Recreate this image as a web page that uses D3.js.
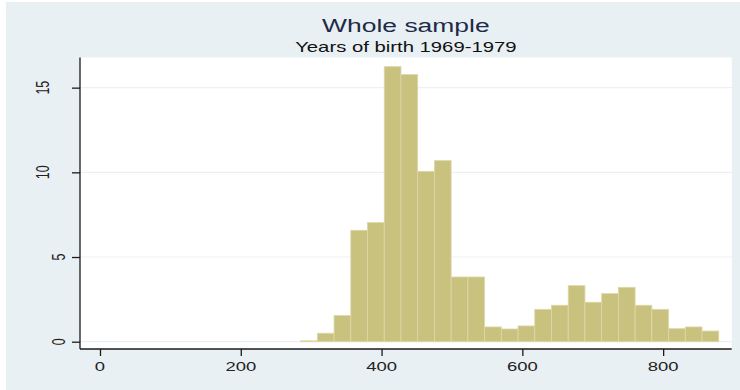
<!DOCTYPE html>
<html>
<head>
<meta charset="utf-8">
<script src="https://cdn.jsdelivr.net/npm/d3@7"></script>
<style>
  body { margin: 0; background: #fff; }
  text { font-family: "Liberation Sans", Arial, sans-serif; }
</style>
</head>
<body>
<div id="chart"></div>
<script>
var width = 740,
    height = 390;

// histogram: density per bin, bins start at 285 and are ~23.76 wide
var binStart = 285,
    binWidth = 23.76;
var density = [0.05, 0.5, 1.54, 6.58, 7.03, 16.24, 15.77, 10.06, 10.69, 3.82, 3.82, 0.87, 0.75,
               0.93, 1.91, 2.15, 3.31, 2.33, 2.84, 3.21, 2.15, 1.91, 0.77, 0.87, 0.63];
var xTicks = [0, 200, 400, 600, 800];
var yTicks = [0, 5, 10, 15];
var title = 'Whole sample',
    subtitle = 'Years of birth 1969-1979';

var bins = density.map(function(d, i) {
  return { x0: binStart + i * binWidth, x1: binStart + (i + 1) * binWidth, y: d };
});

var svg = d3.select('#chart').append('svg')
  .attr('width', width)
  .attr('height', height);

svg.append('rect')
  .attr('x', 6).attr('y', 2)
  .attr('width', width - 6).attr('height', height - 2)
  .attr('fill', '#e9f0f3');

var plotLeft = 80, plotRight = 731.7, plotTop = 57.5, plotBottom = 349;

var x = d3.scaleLinear()
  .domain([-28.4, 897.4])
  .range([plotLeft, plotRight]);

var y = d3.scaleLinear()
  .domain([-0.431, 16.78])
  .range([plotBottom, plotTop]);

svg.append('rect')
  .attr('x', plotLeft).attr('y', plotTop)
  .attr('width', plotRight - plotLeft).attr('height', plotBottom - plotTop)
  .attr('fill', '#fff');

// gridlines
svg.append('g').selectAll('line')
  .data(yTicks)
  .enter().append('line')
  .attr('x1', plotLeft).attr('x2', plotRight)
  .attr('y1', function(d) { return y(d); })
  .attr('y2', function(d) { return y(d); })
  .attr('stroke', '#eaf1f3')
  .attr('stroke-width', 1.2);

// bars
svg.append('g').selectAll('rect')
  .data(bins)
  .enter().append('rect')
  .attr('x', function(d) { return x(d.x0); })
  .attr('width', function(d) { return x(d.x1) - x(d.x0); })
  .attr('y', function(d) { return y(d.y); })
  .attr('height', function(d) { return y(0) - y(d.y); })
  .attr('fill', '#c9c27f')
  .attr('stroke', '#ddd7a8')
  .attr('stroke-width', 0.8);

// axes
var xAxis = svg.append('g')
  .attr('transform', 'translate(0,' + plotBottom + ')')
  .call(d3.axisBottom(x).tickValues(xTicks).tickSize(7).tickFormat(''));
xAxis.select('.domain').attr('d', 'M' + plotLeft + ',0H' + plotRight);

var yAxis = svg.append('g')
  .attr('transform', 'translate(' + plotLeft + ',0)')
  .call(d3.axisLeft(y).tickValues(yTicks).tickSize(8).tickFormat(''));
yAxis.select('.domain').attr('d', 'M0,' + plotTop + 'V' + plotBottom);

svg.selectAll('.domain, .tick line')
  .attr('stroke', '#1a1a1a')
  .attr('stroke-width', 1.3);

// tick labels (picture is stretched horizontally, so text is too)
svg.append('g').selectAll('text')
  .data(xTicks)
  .enter().append('text')
  .attr('transform', function(d) { return 'translate(' + x(d) + ',370.5) scale(1.42,1)'; })
  .attr('text-anchor', 'middle')
  .attr('font-size', 13)
  .attr('fill', '#222')
  .text(function(d) { return d; });

svg.append('g').selectAll('text')
  .data(yTicks)
  .enter().append('text')
  .attr('transform', function(d) {
    var bx = 64.5 - 15.5 * (String(d).length - 1);
    return 'translate(' + bx + ',' + y(d) + ') rotate(-90) scale(1,1.45)';
  })
  .attr('text-anchor', 'middle')
  .attr('font-size', 12.5)
  .attr('fill', '#222')
  .text(function(d) { return d; });

// titles
var cx = (plotLeft + plotRight) / 2;
svg.append('text')
  .attr('transform', 'translate(' + cx + ',31.5) scale(1.47,1)')
  .attr('text-anchor', 'middle')
  .attr('font-size', 18)
  .attr('fill', '#1e2a48')
  .text(title);

svg.append('text')
  .attr('transform', 'translate(' + cx + ',51.5) scale(1.45,1)')
  .attr('text-anchor', 'middle')
  .attr('font-size', 14)
  .attr('fill', '#111')
  .text(subtitle);
</script>
</body>
</html>
